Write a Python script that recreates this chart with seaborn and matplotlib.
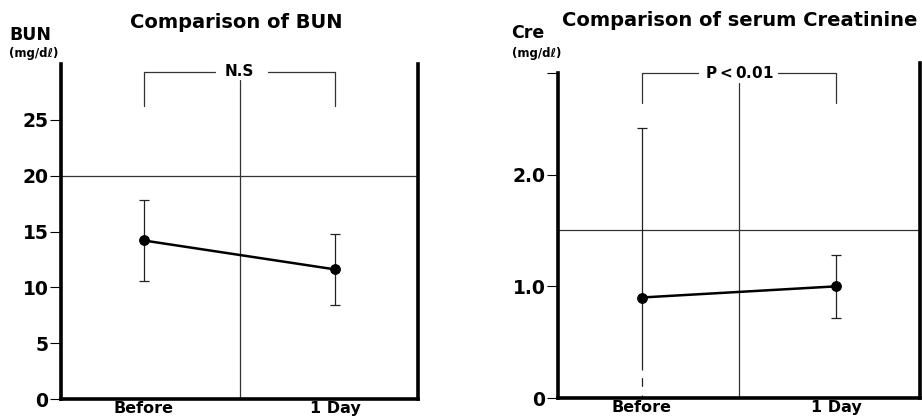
import pandas as pd
import matplotlib
matplotlib.use('Agg')
import matplotlib.pyplot as plt
import seaborn as sns

# ── Data ───────────────────────────────────────────────────────────────
groups = ['Before', '1 Day']

bun_mean = [14.2, 11.6]
bun_sd = [3.6, 3.2]
bun_ref = 20
bun_ticks = [0, 5, 10, 15, 20, 25]
bun_ticklabels = ['0', '5', '10', '15', '20', '25']

cre_mean = [0.90, 1.00]
cre_sd = [1.52, 0.28]
cre_ref = 1.5
cre_ticks = [0, 1.0, 2.0]
cre_ticklabels = ['0', '1.0', '2.0']

bun_sig = 'N.S'
cre_sig = 'P$<$0.01'

# ── Style ──────────────────────────────────────────────────────────────
sns.set_style('white')
plt.rcParams['font.family'] = ['DejaVu Sans']
plt.rcParams['font.weight'] = 'bold'
plt.rcParams['text.color'] = 'black'
plt.rcParams['xtick.color'] = 'black'
plt.rcParams['ytick.color'] = 'black'

W, H = 922, 419
fig = plt.figure(figsize=(W / 100, H / 100), dpi=100)


def box(x0, y0, x1, y1):
    # pixel box (top-left origin) -> figure fraction rect
    return [x0 / W, 1 - y1 / H, (x1 - x0) / W, (y1 - y0) / H]


def px(x, y):
    return x / W, 1 - y / H


def draw_panel(ax, mean, sd, ref, ylim, ticks, ticklabels, sig, sig_y, sig_end, gap, mid_top):
    pos = list(range(len(groups)))
    df = pd.DataFrame({'pos': pos, 'value': mean})

    # reference lines
    ax.axhline(ref, color='#333333', lw=0.9, zorder=1)
    ax.plot([0.5, 0.5], [0, mid_top], color='#333333', lw=0.9, zorder=1, clip_on=False)

    # error bars
    ax.errorbar(pos, mean, yerr=sd, fmt='none', ecolor='#222222', elinewidth=0.9,
                capsize=3.5, capthick=0.9, zorder=2)

    # mean line with markers
    sns.lineplot(data=df, x='pos', y='value', ax=ax, color='black', lw=1.8,
                 marker='o', markersize=7, markeredgecolor='black', zorder=3)

    # significance bracket
    kw = dict(color='#333333', lw=0.9, clip_on=False)
    ax.plot([pos[0], pos[0], gap[0]], [sig_end, sig_y, sig_y], **kw)
    ax.plot([gap[1], pos[1], pos[1]], [sig_y, sig_y, sig_end], **kw)
    ax.text(0.5, sig_y, sig, ha='center', va='center', fontsize=11, fontweight='bold',
            clip_on=False)

    ax.set_xlim(-0.43, 1.43)
    ax.set_ylim(*ylim)
    ax.set_xticks(pos)
    ax.set_xticklabels(groups, fontsize=11.5, fontweight='bold')
    ax.set_yticks(ticks)
    ax.set_yticklabels(ticklabels, fontsize=13.5, fontweight='bold')
    ax.set_xlabel('')
    ax.set_ylabel('')
    ax.tick_params(axis='x', length=0, pad=1.5)
    ax.tick_params(axis='y', length=8, width=0.8, pad=1, direction='out', left=True)

    ax.spines['top'].set_visible(False)
    for s in ['left', 'bottom', 'right']:
        ax.spines[s].set_linewidth(2.6)
        ax.spines[s].set_color('black')


# ── Left panel: BUN ────────────────────────────────────────────────────
ax1 = fig.add_axes(box(61, 64, 418, 399))
draw_panel(ax1, bun_mean, bun_sd, bun_ref, (0, 30), bun_ticks, bun_ticklabels,
           bun_sig, 29.3, 26.2, (0.37, 0.65), 28.6)

fig.text(*px(236, 22), 'Comparison of BUN', ha='center', va='center',
         fontsize=14, fontweight='bold')
fig.text(*px(9, 35), 'BUN', ha='left', va='center', fontsize=12.5, fontweight='bold')
fig.text(*px(9, 53), '(mg/dℓ)', ha='left', va='center', fontsize=8.5, fontweight='bold')

# ── Right panel: Creatinine ────────────────────────────────────────────
ax2 = fig.add_axes(box(558, 63, 920, 398))
draw_panel(ax2, cre_mean, cre_sd, cre_ref, (0, 3.0), cre_ticks + [2.91], cre_ticklabels + [''],
           cre_sig, 2.91, 2.64, (0.29, 0.70), 2.82)
ax2.spines['left'].set_bounds(0, 2.91)
# broken (dashed) foot of the "Before" error bar
ax2.plot([0, 0], [0.03, 0.25], color='white', lw=2.5, dashes=(2.5, 2.5), zorder=2.5)

fig.text(*px(740, 21), 'Comparison of serum Creatinine', ha='center', va='center',
         fontsize=14, fontweight='bold')
fig.text(*px(511, 33), 'Cre', ha='left', va='center', fontsize=12.5, fontweight='bold')
fig.text(*px(512, 53), '(mg/dℓ)', ha='left', va='center', fontsize=8.5, fontweight='bold')

plt.savefig('out.png', dpi=100)
